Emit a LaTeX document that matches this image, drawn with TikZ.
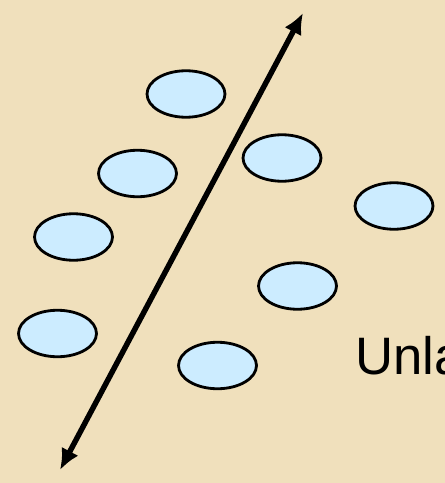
\documentclass[tikz,border=0pt]{standalone}
\usepackage{fontspec}
\setmainfont{Liberation Sans}
\usetikzlibrary{shapes.geometric,arrows.meta}
\definecolor{parchment}{RGB}{240,224,188}
\definecolor{blobblue}{RGB}{204,236,255}
\tikzset{
	blob/.style = {ellipse, draw = black, fill = blobblue, line width = 1.6pt, minimum width = 1.56cm, minimum height = 0.93cm, inner sep = 0pt}
}
\begin{document}
\begin{tikzpicture}[x = 0.02cm, y = -0.02cm]
\useasboundingbox (0,0) rectangle (445,483);
\clip (0,0) rectangle (445,483);
\fill[parchment] (0,0) rectangle (445,483);
\foreach \n/\x/\y in {p1/186/94, p2/137.5/173.5, p3/282/158, p4/73.5/237, p5/394/206, p6/297.5/286, p7/57.5/333.5, p8/217.5/365.5}
{
	\node[blob] (\n) at (\x, \y) {};
}
\coordinate (lo) at (60,470);
\coordinate (hi) at (303,13);
\draw[{Latex[length=4.2mm, width=3.8mm]}-{Latex[length=4.2mm, width=3.8mm]}, line width = 3.1pt] (lo) -- (hi);
\node[anchor = base west, inner sep = 0pt, font = \fontsize{30}{36}\selectfont] (lbl) at (355,374) {Unla};
\end{tikzpicture}
\end{document}
